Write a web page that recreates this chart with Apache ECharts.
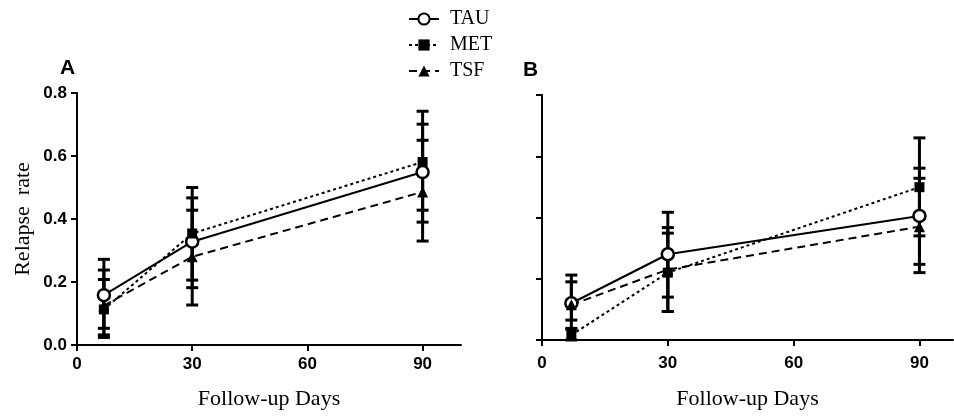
<!DOCTYPE html>
<html><head><meta charset="utf-8">
<script src="https://cdn.jsdelivr.net/npm/echarts@6/dist/echarts.min.js"></script>
<style>html,body{margin:0;padding:0;background:#fff}#c{width:954px;height:416px}</style>
</head><body><div id="c"></div>
<script>
const days = [7, 30, 90];
const xTicks = [0, 30, 60, 90];
const yTicks = [0, 0.2, 0.4, 0.6, 0.8];
const groups = ['TAU', 'MET', 'TSF'];

// Panel A
const A_TAU = [0.158, 0.328, 0.549];
const A_TAU_lo = [0.053, 0.182, 0.39];
const A_TAU_hi = [0.272, 0.467, 0.701];
const A_MET = [0.113, 0.354, 0.581];
const A_MET_lo = [0.024, 0.206, 0.428];
const A_MET_hi = [0.208, 0.5, 0.742];
const A_TSF = [0.125, 0.28, 0.486];
const A_TSF_lo = [0.032, 0.127, 0.33];
const A_TSF_hi = [0.238, 0.428, 0.65];

// Panel B
const B_TAU = [0.12, 0.28, 0.405];
const B_TAU_lo = [0.065, 0.14, 0.247];
const B_TAU_hi = [0.212, 0.417, 0.561];
const B_MET = [0.016, 0.22, 0.499];
const B_MET_lo = [0.0, 0.093, 0.34];
const B_MET_hi = [0.035, 0.349, 0.66];
const B_TSF = [0.115, 0.23, 0.37];
const B_TSF_lo = [0.038, 0.093, 0.22];
const B_TSF_hi = [0.19, 0.367, 0.528];

const styles = {
  TAU: {symbol: 'circle', size: 12, fill: '#fff', border: 2.5, line: 'solid'},
  MET: {symbol: 'rect', size: 10, fill: '#000', border: 0, line: [3, 3]},
  TSF: {symbol: 'triangle', size: 11, fill: '#000', border: 0, line: [8, 5]}
};

const panels = [
  {TAU: [A_TAU, A_TAU_lo, A_TAU_hi], MET: [A_MET, A_MET_lo, A_MET_hi], TSF: [A_TSF, A_TSF_lo, A_TSF_hi]},
  {TAU: [B_TAU, B_TAU_lo, B_TAU_hi], MET: [B_MET, B_MET_lo, B_MET_hi], TSF: [B_TSF, B_TSF_lo, B_TSF_hi]}
];

const sans = 'Liberation Sans';
const serif = 'Liberation Serif';

function xAxis(idx, max, gap, margin) {
  return {
    gridIndex: idx, type: 'value', min: 0, max: max,
    name: 'Follow-up Days', nameLocation: 'middle', nameGap: gap,
    nameTextStyle: {fontFamily: serif, fontSize: 22, color: '#000'},
    axisLine: {lineStyle: {color: '#000', width: 2}},
    axisTick: {show: true, length: 6, lineStyle: {color: '#000', width: 2}, customValues: xTicks},
    axisLabel: {customValues: xTicks, fontFamily: sans, fontWeight: 'bold', fontSize: 17, color: '#000', margin: margin},
    splitLine: {show: false}
  };
}
function yAxis(idx, showLabels) {
  return {
    gridIndex: idx, type: 'value', min: 0, max: 0.8, interval: 0.2,
    name: showLabels ? 'Relapse  rate' : '', nameLocation: 'middle', nameGap: 43,
    nameTextStyle: {fontFamily: serif, fontSize: 22, color: '#000'},
    axisLine: {show: true, lineStyle: {color: '#000', width: 2}},
    axisTick: {show: true, length: 6, lineStyle: {color: '#000', width: 2}},
    axisLabel: {show: showLabels, fontFamily: sans, fontWeight: 'bold', fontSize: 17, color: '#000', margin: 10,
      formatter: v => v.toFixed(1)},
    splitLine: {show: false}
  };
}

const series = [];
panels.forEach((p, pi) => {
  groups.forEach(g => {
    const [m, lo, hi] = p[g];
    const st = styles[g];
    series.push({
      type: 'custom', xAxisIndex: pi, yAxisIndex: pi, z: 2, silent: true,
      data: days.map((d, i) => [d, lo[i], hi[i]]),
      encode: {x: 0, y: [1, 2]},
      renderItem: (params, api) => {
        const a = api.coord([api.value(0), api.value(1)]);
        const b = api.coord([api.value(0), api.value(2)]);
        const w = 6;
        const s = {stroke: '#000', lineWidth: 3};
        return {type: 'group', children: [
          {type: 'line', shape: {x1: a[0], y1: a[1], x2: b[0], y2: b[1]}, style: s},
          {type: 'line', shape: {x1: a[0] - w, y1: a[1], x2: a[0] + w, y2: a[1]}, style: s},
          {type: 'line', shape: {x1: b[0] - w, y1: b[1], x2: b[0] + w, y2: b[1]}, style: s}
        ]};
      }
    });
    series.push({
      type: 'line', name: g, xAxisIndex: pi, yAxisIndex: pi, z: 5,
      data: days.map((d, i) => [d, m[i]]),
      symbol: st.symbol, symbolSize: st.size, showAllSymbol: true,
      lineStyle: {color: '#000', width: 2, type: st.line},
      itemStyle: {color: st.fill, borderColor: '#000', borderWidth: st.border, opacity: 1},
      emphasis: {disabled: true}, animation: false
    });
  });
});

const chart = echarts.init(document.getElementById('c'));
chart.setOption({
  animation: false,
  backgroundColor: '#fff',
  grid: [
    {left: 77, top: 93, width: 384, height: 252},
    {left: 542, top: 95, width: 411, height: 245}
  ],
  xAxis: [xAxis(0, 100, 43, 11), xAxis(1, 98, 48, 15)],
  yAxis: [yAxis(0, true), yAxis(1, false)],
  legend: {
    data: groups, orient: 'vertical', left: 403, top: 4, itemWidth: 30, itemHeight: 14, itemGap: 6,
    textStyle: {fontFamily: serif, fontSize: 20, color: '#000', padding: [0, 0, 0, 6]},
    selectedMode: false
  },
  graphic: [
    {type: 'text', left: 60, top: 58, style: {text: 'A', font: 'bold 21px "Liberation Sans"', fill: '#000'}},
    {type: 'text', left: 523, top: 60, style: {text: 'B', font: 'bold 21px "Liberation Sans"', fill: '#000'}}
  ],
  series: series
});
</script></body></html>
